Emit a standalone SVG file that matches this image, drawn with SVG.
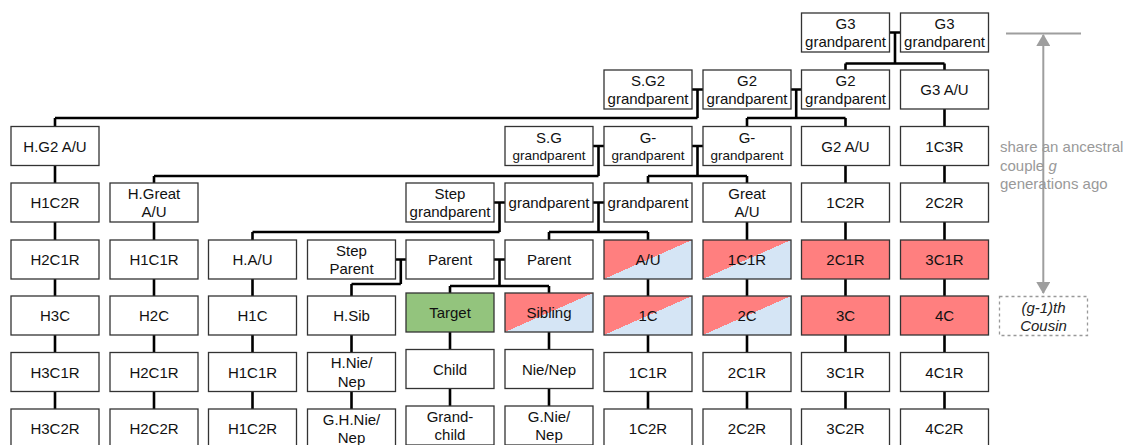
<svg xmlns="http://www.w3.org/2000/svg" width="1139" height="445" viewBox="0 0 1139 445">
<style>
.n rect{fill:#ffffff;stroke:#333333;stroke-width:1.3}
.n.red rect{fill:#ff7f7f}
.n.split rect{fill:url(#splitFill)}
.n.green rect{fill:#93c47d}
.n text{font-family:"Liberation Sans",Arial,sans-serif;font-size:15px;fill:#111111;text-anchor:middle;dominant-baseline:central}
.n text.sm{font-size:13.5px}
.conn path{fill:none;stroke:#000000;stroke-width:2.6}
.note{font-family:"Liberation Sans",Arial,sans-serif;font-size:15px;fill:#999999}
.cousin text{font-family:"Liberation Sans",Arial,sans-serif;font-size:15px;font-style:italic;fill:#222222;text-anchor:middle;dominant-baseline:central}
</style>
<defs>
<linearGradient id="splitFill" x1="0" y1="0" x2="1" y2="1" gradientUnits="objectBoundingBox">
<stop offset="0" stop-color="#ff7f7f"/>
<stop offset="0.5" stop-color="#ff7f7f"/>
<stop offset="0.5" stop-color="#d5e5f5"/>
<stop offset="1" stop-color="#d5e5f5"/>
</linearGradient>
<marker id="ah" viewBox="0 0 12 14" refX="11" refY="7" markerWidth="12" markerHeight="14" markerUnits="userSpaceOnUse" orient="auto-start-reverse">
<path d="M0,0 L12,7 L0,14 Z" fill="#9e9e9e"/>
</marker>
</defs>
<g id="connectors" class="conn">
<path d="M889.5,32.5 H900.5 M895,32.5 V63.5 M845.5,63.5 H944.5 M845.5,63.5 V70 M944.5,63.5 V70"/>
<path d="M692,89.5 H703 M697.5,89.5 V118 M55,118 H697.5 M55,118 V127"/>
<path d="M791,89.5 H801.5 M796.2,89.5 V118 M747,118 H845.5 M747,118 V127 M845.5,118 V127"/>
<path d="M593,146 H604 M598.5,146 V176 M154,176 H598.5 M154,176 V183"/>
<path d="M692,146 H703 M697.5,146 V176 M648,176 H747 M648,176 V183 M747,176 V183"/>
<path d="M494,202.5 H505 M499.5,202.5 V232 M252.5,232 H499.5 M252.5,232 V240"/>
<path d="M593,202.5 H604 M598.5,202.5 V232 M549,232 H648 M549,232 V240 M648,232 V240"/>
<path d="M395.5,259.5 H406 M400.8,259.5 V284 M351.5,284 H400.8 M351.5,284 V296"/>
<path d="M494,259.5 H505 M499.5,259.5 V286 M450,286 H549 M450,286 V293 M549,286 V293"/>
<path d="M55,160 V420 M154,215 V420 M252.5,270 V420 M351.5,320 V420 M450,320 V420 M549,320 V420 M648,270 V420 M747,215 V420 M845.5,160 V420 M944.5,100 V420"/>
</g>
<g id="g3gp1" class="n"><rect x="801.5" y="13" width="88" height="39"/><text x="845.5" y="23.3">G3</text><text x="845.5" y="41.8">grandparent</text></g>
<g id="g3gp2" class="n"><rect x="900.5" y="13" width="88" height="39"/><text x="944.5" y="23.3">G3</text><text x="944.5" y="41.8">grandparent</text></g>
<g id="sg2gp" class="n"><rect x="604" y="70" width="88" height="39"/><text x="648" y="80.3">S.G2</text><text x="648" y="98.8">grandparent</text></g>
<g id="g2gp1" class="n"><rect x="703" y="70" width="88" height="39"/><text x="747" y="80.3">G2</text><text x="747" y="98.8">grandparent</text></g>
<g id="g2gp2" class="n"><rect x="801.5" y="70" width="88" height="39"/><text x="845.5" y="80.3">G2</text><text x="845.5" y="98.8">grandparent</text></g>
<g id="g3au" class="n"><rect x="900.5" y="70" width="88" height="39"/><text x="944.5" y="89.5">G3 A/U</text></g>
<g id="hg2au" class="n"><rect x="11" y="126.5" width="88" height="39"/><text x="55" y="146">H.G2 A/U</text></g>
<g id="sggp" class="n"><rect x="505" y="126.5" width="88" height="39"/><text x="549" y="137">S.G</text><text class="sm" x="549" y="155">grandparent</text></g>
<g id="ggp1" class="n"><rect x="604" y="126.5" width="88" height="39"/><text x="648" y="137">G-</text><text class="sm" x="648" y="155">grandparent</text></g>
<g id="ggp2" class="n"><rect x="703" y="126.5" width="88" height="39"/><text x="747" y="137">G-</text><text class="sm" x="747" y="155">grandparent</text></g>
<g id="g2au" class="n"><rect x="801.5" y="126.5" width="88" height="39"/><text x="845.5" y="146">G2 A/U</text></g>
<g id="c1c3r" class="n"><rect x="900.5" y="126.5" width="88" height="39"/><text x="944.5" y="146">1C3R</text></g>
<g id="h1c2r" class="n"><rect x="11" y="183" width="88" height="39"/><text x="55" y="202.5">H1C2R</text></g>
<g id="hgreatau" class="n"><rect x="110" y="183" width="88" height="39"/><text x="154" y="193.3">H.Great</text><text x="154" y="211.8">A/U</text></g>
<g id="stepgp" class="n"><rect x="406" y="183" width="88" height="39"/><text x="450" y="193.3">Step</text><text x="450" y="211.8">grandparent</text></g>
<g id="gp1" class="n"><rect x="505" y="183" width="88" height="39"/><text x="549" y="202.5">grandparent</text></g>
<g id="gp2" class="n"><rect x="604" y="183" width="88" height="39"/><text x="648" y="202.5">grandparent</text></g>
<g id="greatau" class="n"><rect x="703" y="183" width="88" height="39"/><text x="747" y="193.3">Great</text><text x="747" y="211.8">A/U</text></g>
<g id="c1c2r" class="n"><rect x="801.5" y="183" width="88" height="39"/><text x="845.5" y="202.5">1C2R</text></g>
<g id="c2c2r" class="n"><rect x="900.5" y="183" width="88" height="39"/><text x="944.5" y="202.5">2C2R</text></g>
<g id="h2c1r" class="n"><rect x="11" y="240" width="88" height="39"/><text x="55" y="259.5">H2C1R</text></g>
<g id="h1c1r" class="n"><rect x="110" y="240" width="88" height="39"/><text x="154" y="259.5">H1C1R</text></g>
<g id="hau" class="n"><rect x="208.5" y="240" width="88" height="39"/><text x="252.5" y="259.5">H.A/U</text></g>
<g id="stepparent" class="n"><rect x="307.5" y="240" width="88" height="39"/><text x="351.5" y="250.3">Step</text><text x="351.5" y="268.8">Parent</text></g>
<g id="parent1" class="n"><rect x="406" y="240" width="88" height="39"/><text x="450" y="259.5">Parent</text></g>
<g id="parent2" class="n"><rect x="505" y="240" width="88" height="39"/><text x="549" y="259.5">Parent</text></g>
<g id="au" class="n split"><rect x="604" y="240" width="88" height="39"/><text x="648" y="259.5">A/U</text></g>
<g id="c1c1r" class="n split"><rect x="703" y="240" width="88" height="39"/><text x="747" y="259.5">1C1R</text></g>
<g id="c2c1r" class="n red"><rect x="801.5" y="240" width="88" height="39"/><text x="845.5" y="259.5">2C1R</text></g>
<g id="c3c1r" class="n red"><rect x="900.5" y="240" width="88" height="39"/><text x="944.5" y="259.5">3C1R</text></g>
<g id="h3c" class="n"><rect x="11" y="296" width="88" height="39"/><text x="55" y="315.5">H3C</text></g>
<g id="h2c" class="n"><rect x="110" y="296" width="88" height="39"/><text x="154" y="315.5">H2C</text></g>
<g id="h1c" class="n"><rect x="208.5" y="296" width="88" height="39"/><text x="252.5" y="315.5">H1C</text></g>
<g id="hsib" class="n"><rect x="307.5" y="296" width="88" height="39"/><text x="351.5" y="315.5">H.Sib</text></g>
<g id="target" class="n green"><rect x="406" y="293" width="88" height="39"/><text x="450" y="312.5">Target</text></g>
<g id="sibling" class="n split"><rect x="505" y="293" width="88" height="39"/><text x="549" y="312.5">Sibling</text></g>
<g id="c1c" class="n split"><rect x="604" y="296" width="88" height="39"/><text x="648" y="315.5">1C</text></g>
<g id="c2c" class="n split"><rect x="703" y="296" width="88" height="39"/><text x="747" y="315.5">2C</text></g>
<g id="c3c" class="n red"><rect x="801.5" y="296" width="88" height="39"/><text x="845.5" y="315.5">3C</text></g>
<g id="c4c" class="n red"><rect x="900.5" y="296" width="88" height="39"/><text x="944.5" y="315.5">4C</text></g>
<g id="h3c1r" class="n"><rect x="11" y="352.5" width="88" height="39"/><text x="55" y="372">H3C1R</text></g>
<g id="h2c1r_b" class="n"><rect x="110" y="352.5" width="88" height="39"/><text x="154" y="372">H2C1R</text></g>
<g id="h1c1r_b" class="n"><rect x="208.5" y="352.5" width="88" height="39"/><text x="252.5" y="372">H1C1R</text></g>
<g id="hnienep" class="n"><rect x="307.5" y="352.5" width="88" height="39"/><text x="351.5" y="362.8">H.Nie/</text><text x="351.5" y="381.3">Nep</text></g>
<g id="child" class="n"><rect x="406" y="349.5" width="88" height="39"/><text x="450" y="369">Child</text></g>
<g id="nienep" class="n"><rect x="505" y="349.5" width="88" height="39"/><text x="549" y="369">Nie/Nep</text></g>
<g id="c1c1r_b" class="n"><rect x="604" y="352.5" width="88" height="39"/><text x="648" y="372">1C1R</text></g>
<g id="c2c1r_b" class="n"><rect x="703" y="352.5" width="88" height="39"/><text x="747" y="372">2C1R</text></g>
<g id="c3c1r_b" class="n"><rect x="801.5" y="352.5" width="88" height="39"/><text x="845.5" y="372">3C1R</text></g>
<g id="c4c1r" class="n"><rect x="900.5" y="352.5" width="88" height="39"/><text x="944.5" y="372">4C1R</text></g>
<g id="h3c2r" class="n"><rect x="11" y="409" width="88" height="39"/><text x="55" y="428.5">H3C2R</text></g>
<g id="h2c2r" class="n"><rect x="110" y="409" width="88" height="39"/><text x="154" y="428.5">H2C2R</text></g>
<g id="h1c2r_b" class="n"><rect x="208.5" y="409" width="88" height="39"/><text x="252.5" y="428.5">H1C2R</text></g>
<g id="ghnienep" class="n"><rect x="307.5" y="409" width="88" height="39"/><text x="351.5" y="419.3">G.H.Nie/</text><text x="351.5" y="437.8">Nep</text></g>
<g id="grandchild" class="n"><rect x="406" y="406" width="88" height="39"/><text x="450" y="416.3">Grand-</text><text x="450" y="434.8">child</text></g>
<g id="gnienep" class="n"><rect x="505" y="406" width="88" height="39"/><text x="549" y="416.3">G.Nie/</text><text x="549" y="434.8">Nep</text></g>
<g id="c1c2r_b" class="n"><rect x="604" y="409" width="88" height="39"/><text x="648" y="428.5">1C2R</text></g>
<g id="c2c2r_b" class="n"><rect x="703" y="409" width="88" height="39"/><text x="747" y="428.5">2C2R</text></g>
<g id="c3c2r" class="n"><rect x="801.5" y="409" width="88" height="39"/><text x="845.5" y="428.5">3C2R</text></g>
<g id="c4c2r" class="n"><rect x="900.5" y="409" width="88" height="39"/><text x="944.5" y="428.5">4C2R</text></g>
<g id="annotation">
<path d="M1006,33.5 H1081" stroke="#9e9e9e" stroke-width="2" fill="none"/>
<path d="M1043.3,35 V293" stroke="#9e9e9e" stroke-width="2" fill="none" marker-start="url(#ah)" marker-end="url(#ah)"/>
<text class="note" x="1000" y="152">share an ancestral</text>
<text class="note" x="1000" y="170.5">couple <tspan font-style="italic">g</tspan></text>
<text class="note" x="1000" y="189">generations ago</text>
</g>
<g id="cousin" class="cousin">
<rect x="999.5" y="296.5" width="88" height="39" fill="none" stroke="#999999" stroke-width="1.3" stroke-dasharray="3,3"/>
<text x="1043.5" y="307">(g-1)th</text>
<text x="1043.5" y="325">Cousin</text>
</g>
</svg>
